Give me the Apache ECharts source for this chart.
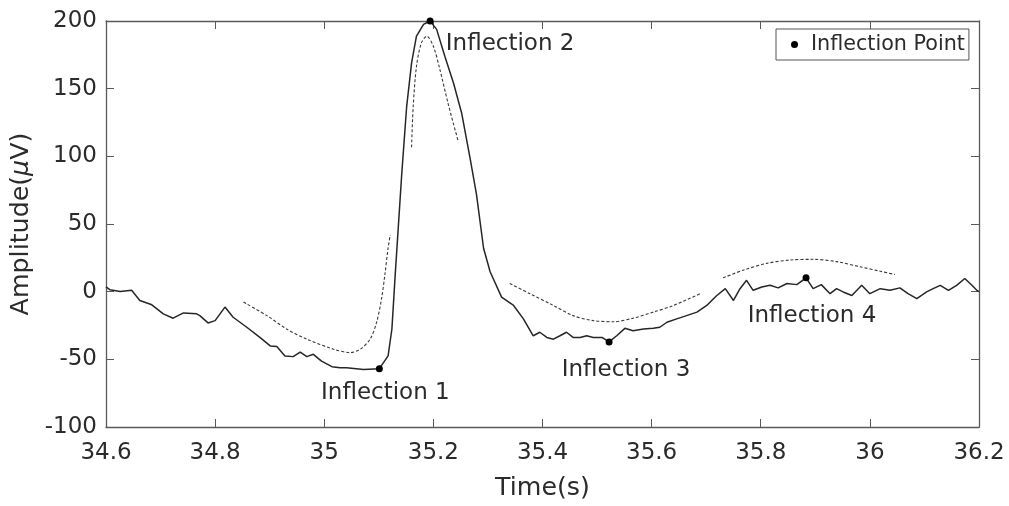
<!DOCTYPE html>
<html>
<head>
<meta charset="utf-8">
<script src="https://cdn.jsdelivr.net/npm/echarts@6/dist/echarts.min.js"></script>
<style>html,body{margin:0;padding:0;background:#fff;}#c{width:1009px;height:506px;}</style>
</head>
<body>
<div id="c"></div>
<script>
// ---- data ----
const xTicks = [34.6, 34.8, 35, 35.2, 35.4, 35.6, 35.8, 36, 36.2];
const yTicks = [-100, -50, 0, 50, 100, 150, 200];

const signalTime = [34.600,34.607,34.626,34.647,34.662,34.684,34.705,34.723,34.742,34.766,34.772,34.787,34.800,34.818,34.833,34.858,34.882,34.901,34.913,34.928,34.943,34.956,34.968,34.980,34.995,35.014,35.029,35.041,35.072,35.101,35.117,35.124,35.130,35.136,35.142,35.151,35.160,35.169,35.182,35.194,35.206,35.221,35.237,35.252,35.267,35.279,35.292,35.304,35.325,35.347,35.365,35.383,35.395,35.408,35.420,35.432,35.444,35.456,35.469,35.481,35.493,35.509,35.522,35.536,35.551,35.566,35.585,35.603,35.615,35.628,35.646,35.664,35.683,35.701,35.719,35.735,35.750,35.762,35.774,35.786,35.802,35.817,35.832,35.848,35.866,35.883,35.896,35.911,35.927,35.939,35.951,35.967,35.985,36.000,36.019,36.037,36.055,36.070,36.086,36.104,36.116,36.129,36.144,36.159,36.174,36.187,36.196,36.200];
const signalAmp  = [3.5,1.5,0.2,1.0,-6.5,-9.7,-16.4,-19.6,-15.7,-16.4,-17.7,-23.1,-21.4,-11.4,-18.9,-26.3,-33.8,-40.1,-40.5,-47.5,-48.0,-44.6,-48.0,-46.3,-51.3,-55.4,-56.2,-56.2,-57.5,-56.9,-47.5,-27.6,12.2,49.5,86.8,136.6,168.9,188.8,197.5,200,193.8,173.9,154.0,131.6,99.3,71.9,32.1,14.7,-4.0,-10.2,-20.1,-32.6,-30.0,-33.8,-35.1,-32.6,-30.0,-33.8,-33.8,-32.6,-33.8,-33.8,-37.1,-32.6,-27.1,-28.9,-27.6,-27.1,-26.3,-22.6,-20.1,-17.7,-15.1,-10.2,-3.0,2.2,-6.5,2.2,8.4,1.0,3.5,4.7,2.8,6.0,5.2,10.2,2.2,5.2,-1.5,2.2,-0.2,-2.8,4.7,-1.5,2.2,1.0,2.8,-1.5,-5.2,-0.2,2.2,4.7,1.0,4.7,9.7,4.7,1.0,0.0];

const fit1Time = [34.852,34.895,34.931,34.968,35.017,35.047,35.066,35.084,35.096,35.105,35.111,35.117,35.121];
const fit1Amp  = [-7.7,-17.7,-27.6,-35.1,-42.5,-45.0,-42.5,-35.1,-22.6,-5.2,12.2,32.1,42.0];
const fit2Time = [35.160,35.163,35.169,35.178,35.188,35.200,35.212,35.227,35.246];
const fit2Amp  = [106.7,136.6,166.4,183.8,188.8,181.3,164.0,139.0,110.4];
const fit3Time = [35.340,35.377,35.420,35.456,35.493,35.530,35.566,35.603,35.640,35.689];
const fit3Amp  = [6.0,-1.5,-10.2,-17.7,-21.4,-22.2,-19.6,-15.1,-10.2,-1.5];
const fit4Time = [35.731,35.768,35.811,35.854,35.896,35.939,35.982,36.019,36.046];
const fit4Amp  = [10.2,15.9,20.9,23.4,23.9,22.2,18.4,15.1,12.7];

const inflectionNames = ['Inflection 1','Inflection 2','Inflection 3','Inflection 4'];
const inflectionTime  = [35.101, 35.194, 35.522, 35.883];
const inflectionAmp   = [-56.9, 200, -37.1, 10.2];

// ---- chart ----
const zip = (a, b) => a.map((v, i) => [v, b[i]]);
const FONT = "'DejaVu Sans', 'Liberation Sans', Arial, sans-serif";
const FS = 23;
const FS_LEG = 20.7;
const FS_NAME = 25.3;
const axisCol = '#5a5a5a';
const textCol = '#2b2b2b';
const labelOffsets = [[6, 24], [80, 23], [17, 28], [6, 38]];

const xCommon = {
  type: 'value', min: xTicks[0], max: xTicks[xTicks.length - 1], interval: 0.2,
  axisLine: { show: true, onZero: false, lineStyle: { color: axisCol, width: 1.3 } },
  axisTick: { show: true, inside: true, length: 8, lineStyle: { color: axisCol } },
  splitLine: { show: false }
};
const yCommon = {
  type: 'value', min: yTicks[0], max: yTicks[yTicks.length - 1], interval: 50,
  axisLine: { show: true, onZero: false, lineStyle: { color: axisCol, width: 1.3 } },
  axisTick: { show: true, inside: true, length: 8, lineStyle: { color: axisCol } },
  splitLine: { show: false }
};

const fitSeries = [[fit1Time, fit1Amp], [fit2Time, fit2Amp], [fit3Time, fit3Amp], [fit4Time, fit4Amp]].map(([t, a]) => ({
  type: 'line', data: zip(t, a), showSymbol: false, smooth: 0.3, silent: true,
  lineStyle: { color: '#3a3a3a', width: 1.1, type: [3, 2] }, z: 2
}));

const option = {
  animation: false,
  backgroundColor: '#ffffff',
  textStyle: { fontFamily: FONT },
  grid: { left: 106, top: 21, right: 30, bottom: 78, containLabel: false },
  legend: {
    data: [{ name: 'Inflection Point', icon: 'circle' }],
    left: 776, top: 29, orient: 'vertical',
    itemWidth: 7, itemHeight: 7,
    padding: [5, 4, 5, 15],
    borderColor: '#555', borderWidth: 1, backgroundColor: '#fff',
    textStyle: { fontFamily: FONT, fontSize: FS_LEG, color: textCol, padding: [0, 0, 0, 8] }
  },
  xAxis: [
    Object.assign({}, xCommon, {
      position: 'bottom',
      name: 'Time(s)', nameLocation: 'middle', nameGap: 49,
      nameTextStyle: { fontFamily: FONT, fontSize: FS_NAME, color: textCol },
      axisLabel: { show: true, fontFamily: FONT, fontSize: FS, color: textCol, margin: 15,
        formatter: v => String(+v.toFixed(1)) }
    }),
    Object.assign({}, xCommon, { position: 'top', axisLabel: { show: false } })
  ],
  yAxis: [
    Object.assign({}, yCommon, {
      position: 'left',
      name: 'Amplitude({mu|μ}V)', nameLocation: 'middle', nameGap: 60, nameRotate: 90,
      nameTextStyle: { fontFamily: FONT, fontSize: FS_NAME, color: textCol,
        rich: { mu: { fontFamily: FONT, fontSize: FS_NAME, color: textCol, fontStyle: 'italic' } } },
      axisLabel: { show: true, fontFamily: FONT, fontSize: FS, color: textCol, margin: 9 }
    }),
    Object.assign({}, yCommon, { position: 'right', axisLabel: { show: false } })
  ],
  series: [
    {
      type: 'line', name: 'Signal', data: zip(signalTime, signalAmp), showSymbol: false,
      lineStyle: { color: '#262626', width: 1.5 }, z: 3, silent: true
    },
    ...fitSeries,
    {
      type: 'scatter', name: 'Inflection Point', symbol: 'circle', symbolSize: 7,
      itemStyle: { color: '#000', opacity: 1 }, z: 5,
      data: inflectionTime.map((t, i) => ({
        value: [t, inflectionAmp[i]],
        label: {
          show: true, formatter: inflectionNames[i], position: 'inside',
          offset: labelOffsets[i], fontFamily: FONT, fontSize: FS, color: textCol
        }
      }))
    }
  ]
};

const chart = echarts.init(document.getElementById('c'), null, { renderer: 'canvas' });
chart.setOption(option);
</script>
</body>
</html>
